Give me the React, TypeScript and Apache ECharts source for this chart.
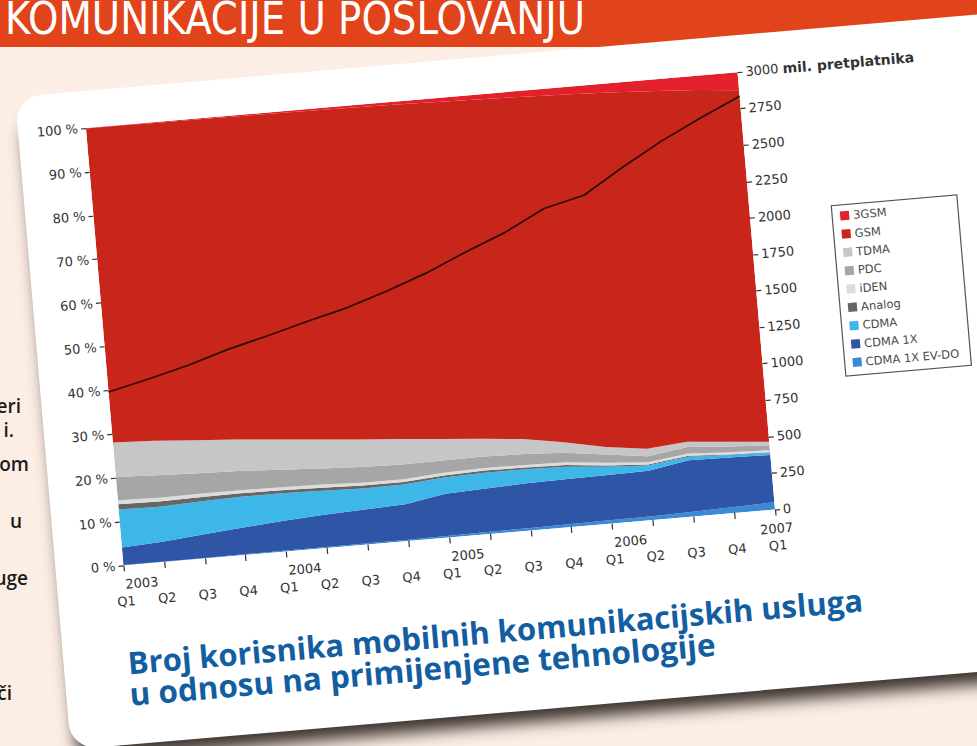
import React, { useEffect, useRef } from "react";
import * as echarts from "echarts";

// ---- data ----
const quarters = [
  "2003 Q1", "2003 Q2", "2003 Q3", "2003 Q4",
  "2004 Q1", "2004 Q2", "2004 Q3", "2004 Q4",
  "2005 Q1", "2005 Q2", "2005 Q3", "2005 Q4",
  "2006 Q1", "2006 Q2", "2006 Q3", "2006 Q4",
  "2007 Q1",
];

// shares in % (stacked to 100)
const share3GSM = [0.1, 0.1, 0.2, 0.2, 0.3, 0.4, 0.5, 0.6, 0.8, 1.0, 1.2, 1.5, 1.8, 2.2, 2.7, 3.3, 4.1];
const shareGSM = [71.8, 72.2, 72.8, 73.4, 74.1, 74.8, 75.5, 76.1, 76.7, 77.2, 77.9, 79.1, 80.7, 81.5, 80.2, 80.4, 80.4];
const shareTDMA = [7.9, 7.9, 7.5, 7.2, 6.9, 6.6, 6.3, 5.8, 4.9, 4.1, 3.4, 2.4, 1.7, 1.7, 1.2, 1.1, 0.8];
const sharePDC = [5.3, 5.1, 4.7, 4.4, 4.0, 3.7, 3.6, 3.4, 2.8, 2.6, 2.5, 2.2, 1.9, 1.4, 1.5, 1.3, 1.1];
const shareIDEN = [0.9, 0.9, 0.8, 0.7, 0.7, 0.7, 0.6, 0.6, 0.6, 0.6, 0.6, 0.6, 0.6, 0.5, 0.5, 0.5, 0.5];
const shareAnalog = [1.2, 1.2, 1.0, 0.8, 0.7, 0.7, 0.7, 0.6, 0.5, 0.5, 0.4, 0.4, 0.3, 0.2, 0.2, 0.1, 0.1];
const shareCDMA = [8.7, 8.0, 7.5, 7.0, 6.3, 5.5, 4.8, 4.5, 3.7, 3.6, 3.2, 2.8, 1.9, 1.2, 0.8, 0.6, 0.5];
const shareCDMA1X = [4.0, 4.5, 5.4, 6.1, 6.8, 7.4, 7.7, 8.1, 9.6, 9.9, 10.2, 10.3, 10.3, 10.4, 11.8, 11.3, 10.8];
const shareEVDO = [0.1, 0.1, 0.1, 0.2, 0.2, 0.2, 0.3, 0.3, 0.4, 0.5, 0.6, 0.7, 0.8, 0.9, 1.1, 1.4, 1.7];

// total subscribers, millions (right axis)
const totalSubscribers = [1190, 1255, 1325, 1410, 1480, 1555, 1625, 1715, 1815, 1935, 2045, 2185, 2252, 2420, 2575, 2710, 2835];

const leftTicks = { min: 0, max: 100, interval: 10 };
const rightTicks = { min: 0, max: 3000, interval: 250 };

const headerTitle = "KOMUNIKACIJE U POSLOVANJU";
const captionLine1 = "Broj korisnika mobilnih komunikacijskih usluga";
const captionLine2 = "u odnosu na primijenjene tehnologije";
const rightUnit = "mil. pretplatnika";

// fragments of the page's body text peeking out at the left
const bodyFragments: [string, number, number][] = [
  ["eri", 21, 413],
  ["i.", 14, 437],
  ["om", 29, 471],
  ["u", 22, 528],
  ["uge", 28, 585],
  ["či", 12, 700],
];

// stacking order: bottom first
const layers = [
  { name: "CDMA 1X EV-DO", data: shareEVDO, color: "#3a8ad6" },
  { name: "CDMA 1X", data: shareCDMA1X, color: "#2f56a6" },
  { name: "CDMA", data: shareCDMA, color: "#3db6e8" },
  { name: "Analog", data: shareAnalog, color: "#666666" },
  { name: "iDEN", data: shareIDEN, color: "#dcdcdc" },
  { name: "PDC", data: sharePDC, color: "#a6a6a6" },
  { name: "TDMA", data: shareTDMA, color: "#c6c6c6" },
  { name: "GSM", data: shareGSM, color: "#c8261b" },
  { name: "3GSM", data: share3GSM, color: "#e3202c" },
];

const FONT = "'DejaVu Sans', Verdana, sans-serif";
const CAPTION_FONT = "'Open Sans', 'Noto Sans', sans-serif";
const AX = "#333333";

export default function App() {
  const ref = useRef<HTMLDivElement>(null);

  useEffect(() => {
    if (!ref.current) return;
    const chart = echarts.init(ref.current, null, { renderer: "svg" });

    const areaSeries = layers.map((l) => ({
      name: l.name,
      type: "line",
      stack: "share",
      data: l.data,
      symbol: "none",
      showSymbol: false,
      lineStyle: { width: 0, color: l.color },
      itemStyle: { color: l.color },
      areaStyle: { color: l.color, opacity: 1 },
      emphasis: { disabled: true },
      z: 2,
    }));

    const option: any = {
      animation: false,
      backgroundColor: "transparent",
      grid: { left: 68, top: 37, width: 654, height: 439, containLabel: false },
      legend: {
        orient: "vertical",
        left: 812,
        top: 183,
        padding: 0,
        itemWidth: 9,
        itemHeight: 9,
        itemGap: 6.4,
        icon: "rect",
        selectedMode: false,
        data: layers.map((l) => l.name).reverse(),
        textStyle: { fontSize: 11.5, lineHeight: 12, color: "#4a4a4a", fontFamily: FONT, padding: [0, 0, 0, -1] },
      },
      xAxis: [
        {
          type: "category",
          data: quarters,
          boundaryGap: false,
          axisLine: { show: false },
          axisTick: { show: true, length: 6, interval: 0, lineStyle: { color: AX, width: 1.2 } },
          splitLine: { show: false },
          axisLabel: {
            interval: 0,
            margin: 29,
            fontSize: 13,
            lineHeight: 14,
            color: AX,
            fontFamily: FONT,
            formatter: (v: string) => v.split(" ")[1],
          },
        },
        {
          type: "category",
          data: quarters,
          boundaryGap: false,
          position: "bottom",
          axisLine: { show: false },
          axisTick: { show: false },
          splitLine: { show: false },
          axisLabel: {
            interval: 0,
            margin: 12,
            fontSize: 13,
            lineHeight: 14,
            color: AX,
            fontFamily: FONT,
            formatter: (v: string, i: number) => {
              const [y, q] = v.split(" ");
              if (q !== "Q1") return "";
              return i === quarters.length - 1 ? `{c|${y}}` : `{y|${y}}`;
            },
            rich: {
              y: { fontSize: 13, color: AX, fontFamily: FONT, padding: [0, 0, 0, 34] },
              c: { fontSize: 13, color: AX, fontFamily: FONT },
            },
          },
        },
      ],
      yAxis: [
        {
          type: "value",
          ...leftTicks,
          axisLine: { show: false },
          axisTick: { show: true, length: 5, lineStyle: { color: AX, width: 1.2 } },
          splitLine: { show: false },
          axisLabel: {
            margin: 8,
            fontSize: 13,
            color: AX,
            fontFamily: FONT,
            formatter: (v: number) => `${v} %`,
          },
        },
        {
          type: "value",
          position: "right",
          ...rightTicks,
          axisLine: { show: false },
          axisTick: { show: true, length: 5, lineStyle: { color: AX, width: 1.2 } },
          splitLine: { show: false },
          axisLabel: {
            margin: 8,
            fontSize: 13,
            color: AX,
            fontFamily: FONT,
            formatter: (v: number) => (v === rightTicks.max ? `${v} {b|${rightUnit}}` : `${v}`),
            rich: {
              b: { fontSize: 14, fontWeight: "bold", color: AX, fontFamily: FONT },
            },
          },
        },
      ],
      series: [
        ...areaSeries,
        {
          name: "Ukupno",
          type: "line",
          yAxisIndex: 1,
          data: totalSubscribers,
          symbol: "none",
          showSymbol: false,
          lineStyle: { color: "#2a0b07", width: 1.7 },
          itemStyle: { color: "#2a0b07" },
          emphasis: { disabled: true },
          z: 10,
        },
      ],
      graphic: [
        {
          type: "rect",
          shape: { x: 804, y: 178, width: 126, height: 171 },
          style: { fill: "none", stroke: "#555555", lineWidth: 1.2 },
          silent: true,
        },
        {
          type: "text",
          x: 64,
          y: 573,
          style: {
            text: captionLine1,
            fontSize: 31,
            fontWeight: "bold",
            fontFamily: CAPTION_FONT,
            fill: "#135ea0",
            textVerticalAlign: "middle",
            verticalAlign: "middle",
          },
          silent: true,
        },
        {
          type: "text",
          x: 63,
          y: 604,
          style: {
            text: captionLine2,
            fontSize: 31.5,
            fontWeight: "bold",
            fontFamily: CAPTION_FONT,
            fill: "#135ea0",
            textVerticalAlign: "middle",
            verticalAlign: "middle",
          },
          silent: true,
        },
      ],
    };

    chart.setOption(option);
    return () => chart.dispose();
  }, []);

  return (
    <div
      style={{
        position: "fixed",
        left: 0,
        top: 0,
        width: 977,
        height: 746,
        overflow: "hidden",
        background: "#fdeee5",
      }}
    >
      <svg width={977} height={746} style={{ position: "absolute", left: 0, top: 0 }}>
        <rect x={0} y={0} width={977} height={47} fill="#e1441b" />
        <text
          x={5}
          y={34}
          textLength={580}
          lengthAdjust="spacingAndGlyphs"
          fontSize={44}
          fill="#ffffff"
          fontFamily="'Liberation Sans Narrow', 'DejaVu Sans Condensed', sans-serif"
        >
          {headerTitle}
        </text>
        {bodyFragments.map(([t, x, y]) => (
          <text
            key={t + y}
            x={x}
            y={y}
            textAnchor="end"
            fontSize={19}
            fontWeight={600}
            fill="#1b1b1b"
            fontFamily="'Open Sans', 'Noto Sans', sans-serif"
          >
            {t}
          </text>
        ))}
      </svg>
      <div
        style={{
          position: "absolute",
          left: 15,
          top: 97,
          width: 1100,
          height: 655,
          background: "#ffffff",
          borderRadius: 26,
          transform: "rotate(-4.9deg)",
          transformOrigin: "0 0",
          boxShadow: "0 18px 16px -6px rgba(25,18,14,0.85)",
          overflow: "hidden",
        }}
      >
        <div ref={ref} style={{ width: 1100, height: 655 }} />
      </div>
    </div>
  );
}
